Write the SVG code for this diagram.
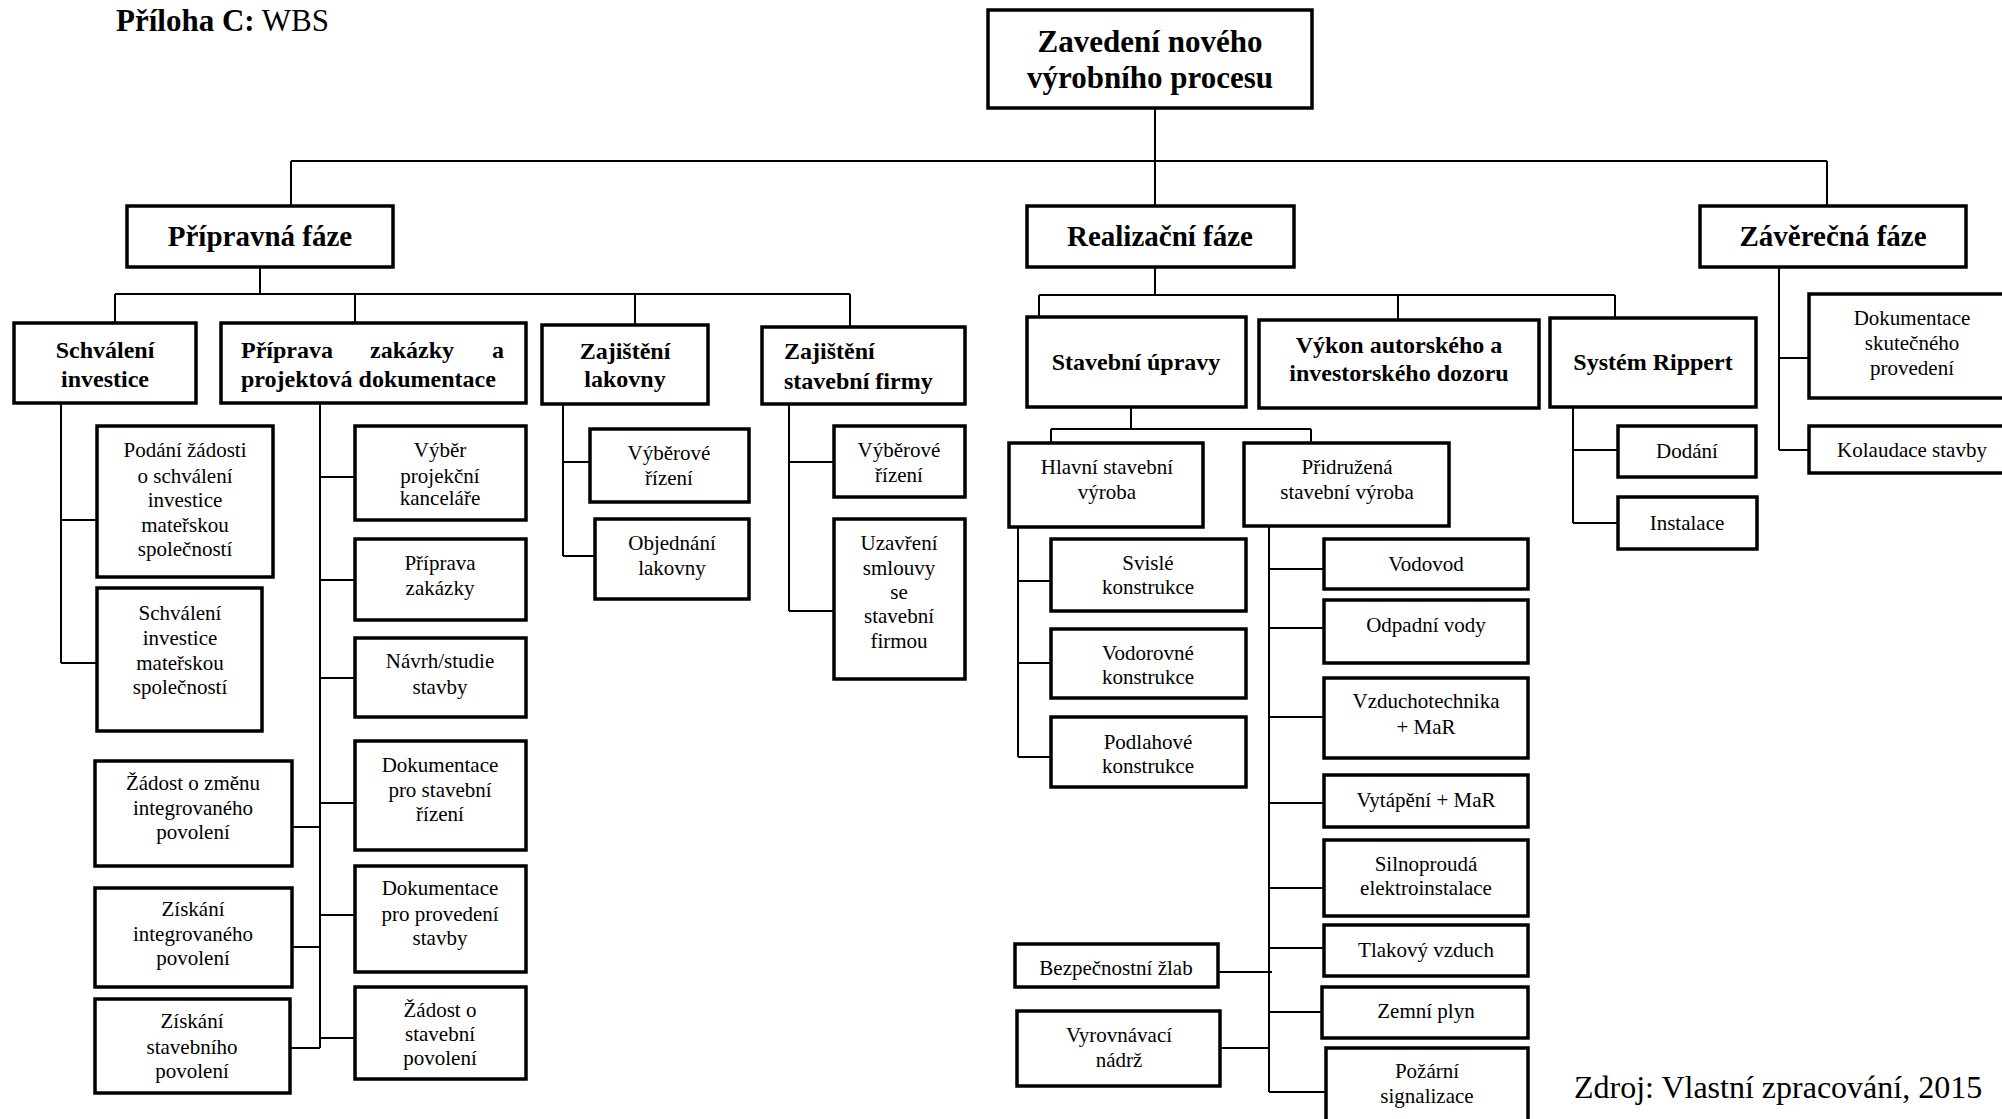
<svg xmlns="http://www.w3.org/2000/svg" width="2002" height="1119" viewBox="0 0 2002 1119">
<style>
.box{fill:#fff;stroke:#000;stroke-width:3.5}
.ln{stroke:#000;stroke-width:2;fill:none}
text{font-family:"Liberation Serif","Times New Roman",serif;fill:#000}
.t{font-size:21px;text-anchor:middle}
.b{font-size:24px;font-weight:bold;text-anchor:middle}
.h1{font-size:29px;font-weight:bold;text-anchor:middle}
.root{font-size:31px;font-weight:bold;text-anchor:middle}
</style>
<rect width="2002" height="1119" fill="#fff"/>
<text x="116" y="31" style="font-size:31px"><tspan font-weight="bold">Příloha C:</tspan> WBS</text>
<text x="1574" y="1098" style="font-size:32px">Zdroj: Vlastní zpracování, 2015</text>

<g id="connectors" class="ln">
<path d="M1155 108V295M291 161H1827M291 161V206M1827 161V206"/>
<path d="M260 267V294M115 294H850M115 294V323M355 294V323M635 294V325M850 294V327"/>
<path d="M61 403V663M61 520H97M61 663H97"/>
<path d="M320 403V1048M320 477H355M320 580H355M320 678H355M320 803H355M320 915H355M320 1038H355M292 827H320M292 947H320M290 1048H320"/>
<path d="M563 404V556M563 462H590M563 556H595"/>
<path d="M789 404V611M789 462H834M789 611H834"/>
<path d="M1039 295H1615M1039 295V317M1398 295V320M1615 295V318"/>
<path d="M1131 407V429M1051 429H1311M1051 429V443M1311 429V443"/>
<path d="M1018 527V757M1018 581H1051M1018 663H1051M1018 757H1051"/>
<path d="M1269 526V1092M1269 569H1324M1269 628H1324M1269 717H1324M1269 803H1324M1269 888H1324M1269 948H1324M1269 1012H1322M1269 1092H1326M1218 972H1272M1220 1048H1269"/>
<path d="M1573 407V523M1573 450H1618M1573 523H1618"/>
<path d="M1779 267V450M1779 358H1809M1779 450H1809"/>
</g>

<g id="root"><rect class="box" x="988" y="10" width="324" height="98"/><text class="root" x="1150" y="52">Zavedení nového</text><text class="root" x="1150" y="88">výrobního procesu</text></g>
<g id="pripravna"><rect class="box" x="127" y="206" width="266" height="61"/><text class="h1" x="260" y="246">Přípravná fáze</text></g>
<g id="realizacni"><rect class="box" x="1027" y="206" width="267" height="61"/><text class="h1" x="1160" y="246">Realizační fáze</text></g>
<g id="zaverecna"><rect class="box" x="1700" y="206" width="266" height="61"/><text class="h1" x="1833" y="246">Závěrečná fáze</text></g>

<g id="schvaleni-investice"><rect class="box" x="14" y="323" width="182" height="80"/><text class="b" x="105" y="358">Schválení</text><text class="b" x="105" y="387">investice</text></g>
<g id="priprava-zakazky"><rect class="box" x="221" y="323" width="305" height="80"/><text class="b" style="text-anchor:start" x="241" y="358">Příprava</text><text class="b" style="text-anchor:start" x="370" y="358">zakázky</text><text class="b" style="text-anchor:end" x="504" y="358">a</text><text class="b" style="text-anchor:start" x="241" y="387">projektová dokumentace</text></g>
<g id="zajisteni-lakovny"><rect class="box" x="542" y="325" width="166" height="79"/><text class="b" x="625" y="359">Zajištění</text><text class="b" x="625" y="387">lakovny</text></g>
<g id="zajisteni-firmy"><rect class="box" x="762" y="327" width="203" height="77"/><text class="b" style="text-anchor:start" x="784" y="359">Zajištění</text><text class="b" style="text-anchor:start" x="784" y="389">stavební firmy</text></g>

<g id="podani"><rect class="box" x="97" y="426" width="176" height="151"/><text class="t" x="185" y="457">Podání žádosti</text><text class="t" x="185" y="483">o schválení</text><text class="t" x="185" y="507">investice</text><text class="t" x="185" y="532">mateřskou</text><text class="t" x="185" y="556">společností</text></g>
<g id="schvaleni-mat"><rect class="box" x="97" y="588" width="165" height="143"/><text class="t" x="180" y="620">Schválení</text><text class="t" x="180" y="645">investice</text><text class="t" x="180" y="670">mateřskou</text><text class="t" x="180" y="694">společností</text></g>
<g id="zadost-zmena"><rect class="box" x="95" y="761" width="197" height="105"/><text class="t" x="193" y="790">Žádost o změnu</text><text class="t" x="193" y="815">integrovaného</text><text class="t" x="193" y="839">povolení</text></g>
<g id="ziskani-int"><rect class="box" x="95" y="888" width="197" height="99"/><text class="t" x="193" y="916">Získání</text><text class="t" x="193" y="941">integrovaného</text><text class="t" x="193" y="965">povolení</text></g>
<g id="ziskani-stav"><rect class="box" x="95" y="999" width="195" height="94"/><text class="t" x="192" y="1028">Získání</text><text class="t" x="192" y="1054">stavebního</text><text class="t" x="192" y="1078">povolení</text></g>

<g id="vyber-projekcni"><rect class="box" x="355" y="426" width="171" height="94"/><text class="t" x="440" y="457">Výběr</text><text class="t" x="440" y="483">projekční</text><text class="t" x="440" y="505">kanceláře</text></g>
<g id="priprava-zakazky-2"><rect class="box" x="355" y="539" width="171" height="81"/><text class="t" x="440" y="570">Příprava</text><text class="t" x="440" y="595">zakázky</text></g>
<g id="navrh"><rect class="box" x="355" y="638" width="171" height="79"/><text class="t" x="440" y="668">Návrh/studie</text><text class="t" x="440" y="694">stavby</text></g>
<g id="dok-stav-rizeni"><rect class="box" x="355" y="741" width="171" height="109"/><text class="t" x="440" y="772">Dokumentace</text><text class="t" x="440" y="797">pro stavební</text><text class="t" x="440" y="821">řízení</text></g>
<g id="dok-provedeni"><rect class="box" x="355" y="866" width="171" height="106"/><text class="t" x="440" y="895">Dokumentace</text><text class="t" x="440" y="921">pro provedení</text><text class="t" x="440" y="945">stavby</text></g>
<g id="zadost-stav"><rect class="box" x="355" y="987" width="171" height="92"/><text class="t" x="440" y="1017">Žádost o</text><text class="t" x="440" y="1041">stavební</text><text class="t" x="440" y="1065">povolení</text></g>

<g id="vyber-lakovna"><rect class="box" x="590" y="429" width="159" height="73"/><text class="t" x="669" y="460">Výběrové</text><text class="t" x="669" y="485">řízení</text></g>
<g id="objednani"><rect class="box" x="595" y="519" width="154" height="80"/><text class="t" x="672" y="550">Objednání</text><text class="t" x="672" y="575">lakovny</text></g>
<g id="vyber-firma"><rect class="box" x="834" y="426" width="131" height="71"/><text class="t" x="899" y="457">Výběrové</text><text class="t" x="899" y="482">řízení</text></g>
<g id="uzavreni"><rect class="box" x="834" y="519" width="131" height="160"/><text class="t" x="899" y="550">Uzavření</text><text class="t" x="899" y="575">smlouvy</text><text class="t" x="899" y="599">se</text><text class="t" x="899" y="623">stavební</text><text class="t" x="899" y="648">firmou</text></g>

<g id="stavebni-upravy"><rect class="box" x="1027" y="317" width="219" height="90"/><text class="b" x="1136" y="370">Stavební úpravy</text></g>
<g id="vykon"><rect class="box" x="1259" y="320" width="280" height="88"/><text class="b" x="1399" y="353">Výkon autorského a</text><text class="b" x="1399" y="381">investorského dozoru</text></g>
<g id="system-rippert"><rect class="box" x="1550" y="318" width="206" height="89"/><text class="b" x="1653" y="370">Systém Rippert</text></g>

<g id="hlavni"><rect class="box" x="1009" y="443" width="194" height="84"/><text class="t" x="1107" y="474">Hlavní stavební</text><text class="t" x="1107" y="499">výroba</text></g>
<g id="pridruzena"><rect class="box" x="1244" y="443" width="205" height="83"/><text class="t" x="1347" y="474">Přidružená</text><text class="t" x="1347" y="499">stavební výroba</text></g>
<g id="svisle"><rect class="box" x="1051" y="539" width="195" height="72"/><text class="t" x="1148" y="570">Svislé</text><text class="t" x="1148" y="594">konstrukce</text></g>
<g id="vodorovne"><rect class="box" x="1051" y="629" width="195" height="69"/><text class="t" x="1148" y="660">Vodorovné</text><text class="t" x="1148" y="684">konstrukce</text></g>
<g id="podlahove"><rect class="box" x="1051" y="717" width="195" height="70"/><text class="t" x="1148" y="749">Podlahové</text><text class="t" x="1148" y="773">konstrukce</text></g>

<g id="vodovod"><rect class="box" x="1324" y="539" width="204" height="50"/><text class="t" x="1426" y="571">Vodovod</text></g>
<g id="odpadni"><rect class="box" x="1324" y="600" width="204" height="63"/><text class="t" x="1426" y="632">Odpadní vody</text></g>
<g id="vzt"><rect class="box" x="1324" y="678" width="204" height="80"/><text class="t" x="1426" y="708">Vzduchotechnika</text><text class="t" x="1426" y="734">+ MaR</text></g>
<g id="vytapeni"><rect class="box" x="1324" y="775" width="204" height="52"/><text class="t" x="1426" y="807">Vytápění + MaR</text></g>
<g id="silnoproud"><rect class="box" x="1324" y="840" width="204" height="76"/><text class="t" x="1426" y="871">Silnoproudá</text><text class="t" x="1426" y="895">elektroinstalace</text></g>
<g id="tlakovy"><rect class="box" x="1324" y="925" width="204" height="51"/><text class="t" x="1426" y="957">Tlakový vzduch</text></g>
<g id="zemni"><rect class="box" x="1322" y="987" width="206" height="51"/><text class="t" x="1426" y="1018">Zemní plyn</text></g>
<g id="pozarni"><rect class="box" x="1326" y="1048" width="202" height="80"/><text class="t" x="1427" y="1078">Požární</text><text class="t" x="1427" y="1103">signalizace</text></g>
<g id="bezpecnostni"><rect class="box" x="1015" y="944" width="203" height="43"/><text class="t" x="1116" y="975">Bezpečnostní žlab</text></g>
<g id="vyrovnavaci"><rect class="box" x="1017" y="1011" width="203" height="75"/><text class="t" x="1119" y="1042">Vyrovnávací</text><text class="t" x="1119" y="1067">nádrž</text></g>

<g id="dodani"><rect class="box" x="1618" y="426" width="138" height="51"/><text class="t" x="1687" y="458">Dodání</text></g>
<g id="instalace"><rect class="box" x="1618" y="497" width="139" height="52"/><text class="t" x="1687" y="530">Instalace</text></g>
<g id="dok-skutecneho"><rect class="box" x="1809" y="294" width="200" height="104"/><text class="t" x="1912" y="325">Dokumentace</text><text class="t" x="1912" y="350">skutečného</text><text class="t" x="1912" y="375">provedení</text></g>
<g id="kolaudace"><rect class="box" x="1809" y="426" width="200" height="47"/><text class="t" x="1912" y="457">Kolaudace stavby</text></g>
</svg>
